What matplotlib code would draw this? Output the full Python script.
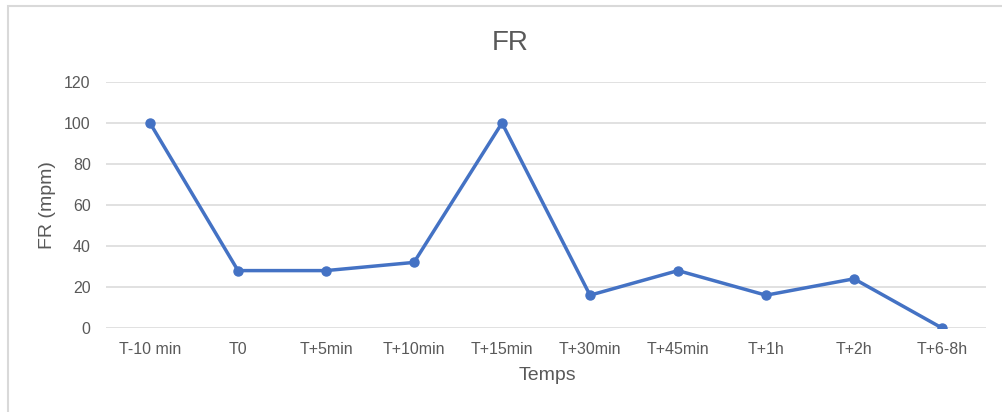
import matplotlib
matplotlib.use("Agg")
import matplotlib.pyplot as plt
from matplotlib.patches import Rectangle

plt.rcParams['font.family'] = ['Liberation Sans', 'DejaVu Sans']

categories = ["T-10 min", "T0", "T+5min", "T+10min", "T+15min",
              "T+30min", "T+45min", "T+1h", "T+2h", "T+6-8h"]
fr_values = [100, 28, 28, 32, 100, 16, 28, 16, 24, 0]
y_ticks = [0, 20, 40, 60, 80, 100, 120]

text_color = "#595959"
grid_color = "#D9D9D9"
line_color = "#4472C4"

W, H = 1002, 412
fig = plt.figure(figsize=(W / 100, H / 100), dpi=100)

# chart frame
fig.patches.append(Rectangle((8 / W, -0.05), 1.1, (H - 6) / H + 0.05,
                             transform=fig.transFigure, fill=False,
                             edgecolor=grid_color, linewidth=1.5))

left, right = 106, 986
top, bottom = 82, 328
ax = fig.add_axes([left / W, 1 - bottom / H, (right - left) / W, (bottom - top) / H])

x = list(range(len(categories)))
ax.plot(x, fr_values, color=line_color, linewidth=2.5, marker='o',
        markersize=6.5, solid_joinstyle='round', zorder=3)

ax.set_xlim(-0.5, len(categories) - 0.5)
ax.set_ylim(0, 120)
ax.set_yticks(y_ticks)
ax.set_xticks(x)
ax.set_xticklabels(categories)
ax.grid(axis='y', color=grid_color, linewidth=1.1)
ax.set_axisbelow(True)
for s in ax.spines.values():
    s.set_visible(False)
ax.tick_params(axis='both', length=0, colors=text_color, labelsize=11.5)
ax.tick_params(axis='y', pad=11)
ax.tick_params(axis='x', pad=10)

fig.text(510 / W, 1 - 43 / H, "FR", ha='center', va='center',
         fontsize=20, color=text_color)
fig.text(547 / W, 1 - 376 / H, "Temps", ha='center', va='center',
         fontsize=14, color=text_color)
fig.text(48 / W, 1 - 205 / H, "FR (mpm)", ha='center', va='center',
         rotation=90, fontsize=14, color=text_color)

fig.savefig("out.png", dpi=100, facecolor='white')
